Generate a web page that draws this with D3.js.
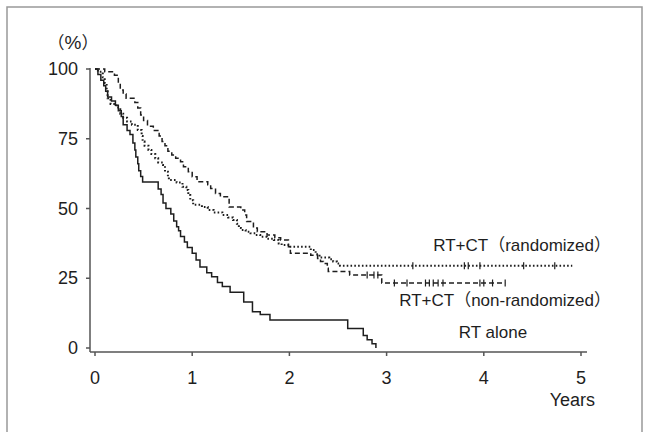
<!DOCTYPE html>
<html>
<head>
	<meta charset="utf-8">
	<title>Survival curves</title>
	<style>
		html, body { margin:0; padding:0; background:#fff; }
		body { font-family: "Liberation Sans", Arial, "Noto Sans CJK JP", sans-serif; }
		#frame { fill: none; stroke: #999; stroke-width: 1.5px; }
		.ax { stroke: #555; stroke-width: 1.5px; fill: none; }
		.lbl { font-size: 18px; fill: #1e1e1e; }
		.serlbl { font-size: 17px; fill: #1e1e1e; }
		.km { fill: none; stroke: #1e1e1e; stroke-width: 1.5px; }
		.km_dash { stroke-dasharray: 5,3; }
		.km_dot { stroke-dasharray: 1.6,2.2; stroke-width: 2px; }
		.cens { stroke: #1e1e1e; stroke-width: 1.2px; }
	</style>
	<script src="https://d3js.org/d3.v7.min.js"></script>
</head>
<body>
<svg id="chart"></svg>
<script>

	//axis ticks
	var yearTicks = [0,1,2,3,4,5];
	var pctTicks = [0,25,50,75,100];

	//RT alone: [years, %] after each drop
	var rtAlone = [[0,100],[0.03,98],[0.06,96],[0.09,94],[0.11,92],[0.13,90],[0.17,88.5],[0.21,87],[0.24,85],[0.27,83],[0.29,80],[0.33,78],[0.36,76.5],[0.39,73.5],[0.41,71],[0.42,68.5],[0.44,66],[0.45,63.5],[0.47,61.5],[0.49,59.5],[0.65,57],[0.68,55],[0.7,52],[0.73,50],[0.78,48],[0.81,45.5],[0.84,43.5],[0.86,42],[0.88,40],[0.92,38],[0.95,36],[1.0,34],[1.04,31.5],[1.08,29],[1.15,27],[1.2,25.5],[1.26,23.5],[1.31,22],[1.39,20],[1.53,16.5],[1.62,13],[1.7,12],[1.8,10],[2.6,7],[2.76,4.5],[2.8,3],[2.85,1.5],[2.89,0]];
	var rtAloneEnd = 2.89;
	var rtAloneCens = [];

	//RT+CT non-randomized
	var ctNonRand = [[0,100],[0.1,99],[0.2,97.8],[0.24,95],[0.26,92.5],[0.29,91],[0.32,89.5],[0.41,88],[0.44,86],[0.47,83.5],[0.5,81.5],[0.54,79.5],[0.6,78],[0.66,76],[0.69,74],[0.72,72.5],[0.75,70.5],[0.79,69.2],[0.83,68],[0.88,66.8],[0.91,65],[0.96,63.2],[1.0,61.4],[1.05,59.6],[1.16,58.5],[1.19,57.2],[1.24,55.4],[1.29,54.2],[1.38,50.5],[1.5,49.5],[1.54,47.7],[1.56,45.3],[1.62,44.7],[1.63,43],[1.67,41.7],[1.77,40.5],[1.85,39.5],[1.91,38.7],[1.99,36.3],[2.01,34],[2.22,33.2],[2.29,32.1],[2.32,31],[2.35,30.3],[2.39,28.6],[2.4,27.4],[2.62,26.2],[2.95,23.3]];
	var ctNonRandEnd = 4.22;
	var ctNonRandCens = [2.8,2.87,2.91,3.08,3.21,3.4,3.44,3.48,3.53,3.58,3.96,4.0,4.09,4.22];

	//RT+CT randomized
	var ctRand = [[0,100],[0.03,99],[0.08,97],[0.1,95],[0.12,92],[0.13,89.5],[0.16,87.5],[0.22,86.2],[0.26,84],[0.29,82.5],[0.33,81.2],[0.38,80],[0.44,78.1],[0.48,76],[0.49,74],[0.51,72.5],[0.55,71],[0.58,69.5],[0.62,68],[0.65,66.5],[0.7,65.6],[0.72,63.2],[0.75,61.5],[0.76,60.2],[0.84,59.3],[0.9,57.8],[0.94,56.6],[0.96,54.8],[0.98,53],[1.01,51.3],[1.1,50.5],[1.16,49.5],[1.22,48.6],[1.31,47.7],[1.37,46.8],[1.42,45.9],[1.46,44.5],[1.48,43],[1.5,42.3],[1.55,41.7],[1.6,41.1],[1.65,40.5],[1.7,39.9],[1.77,39.2],[1.84,38.7],[1.89,37.5],[1.92,36.9],[2.0,36.3],[2.22,35.1],[2.27,33.6],[2.31,32.4],[2.41,31.8],[2.45,31],[2.49,30.3],[2.52,29.5]];
	var ctRandEnd = 4.91;
	var ctRandCens = [3.27,3.8,3.84,3.96,4.41,4.73];

	var W = 652, H = 432;
	var svg = d3.select("#chart").attr("width", W).attr("height", H);

	//frame
	svg.append("rect").attr("id","frame").attr("x",7).attr("y",7).attr("width",635).attr("height",440);

	var x = d3.scaleLinear().domain([0,5]).range([95,581]),
		y = d3.scaleLinear().domain([0,100]).range([348,69]);
	var axisX = 90, axisY = 352;

	//y axis
	svg.append("line").attr("class","ax").attr("x1",axisX).attr("x2",axisX).attr("y1",y(100)-1).attr("y2",axisY);
	svg.selectAll(".yt").data(pctTicks).enter().append("line").attr("class","ax")
		.attr("x1",axisX-4).attr("x2",axisX).attr("y1",function(d){return y(d);}).attr("y2",function(d){return y(d);});
	svg.selectAll(".ytl").data(pctTicks).enter().append("text").attr("class","lbl")
		.attr("x",78).attr("y",function(d){return y(d)+6;}).style("text-anchor","end").text(function(d){return d;});
	var pctLbl = svg.append("text").attr("class","lbl").attr("x",73).attr("y",49).style("text-anchor","middle");
	pctLbl.append("tspan").style("font-size","17px").text("\uff08");
	pctLbl.append("tspan").style("font-size","19px").text("%");
	pctLbl.append("tspan").style("font-size","17px").text("\uff09");

	//x axis
	svg.append("line").attr("class","ax").attr("x1",axisX).attr("x2",587).attr("y1",axisY).attr("y2",axisY);
	svg.selectAll(".xt").data(yearTicks).enter().append("line").attr("class","ax")
		.attr("x1",function(d){return x(d);}).attr("x2",function(d){return x(d);}).attr("y1",axisY).attr("y2",axisY+4);
	svg.selectAll(".xtl").data(yearTicks).enter().append("text").attr("class","lbl")
		.attr("x",function(d){return x(d);}).attr("y",384).style("text-anchor","middle").text(function(d){return d;});
	svg.append("text").attr("class","lbl").attr("x",595).attr("y",406).style("text-anchor","end").text("Years");

	//step curves
	var line = d3.line().x(function(d){return x(d[0]);}).y(function(d){return y(d[1]);}).curve(d3.curveStepAfter);

	function survAt(pts, t){
		var v = pts[0][1];
		for(var i=0;i<pts.length;i++) if(pts[i][0]<=t) v = pts[i][1];
		return v;
	}

	function drawCurve(pts, end, cens, cls){
		var data = pts.slice();
		if(end > pts[pts.length-1][0]) data.push([end, pts[pts.length-1][1]]);
		svg.append("path").attr("class","km "+cls).attr("d", line(data));
		svg.selectAll(null).data(cens).enter().append("line").attr("class","cens")
			.attr("x1",function(d){return x(d);}).attr("x2",function(d){return x(d);})
			.attr("y1",function(d){return y(survAt(pts,d))-3.5;}).attr("y2",function(d){return y(survAt(pts,d))+3.5;});
	}

	drawCurve(rtAlone, rtAloneEnd, rtAloneCens, "");
	drawCurve(ctNonRand, ctNonRandEnd, ctNonRandCens, "km_dash");
	drawCurve(ctRand, ctRandEnd, ctRandCens, "km_dot");

	//series labels
	svg.append("text").attr("class","serlbl").attr("x",611).attr("y",251).style("text-anchor","end").text("RT+CT\uff08randomized\uff09");
	svg.append("text").attr("class","serlbl").attr("x",611).attr("y",306).style("text-anchor","end").text("RT+CT\uff08non-randomized\uff09");
	svg.append("text").attr("class","serlbl").attr("x",493).attr("y",338).style("text-anchor","middle").text("RT alone");

</script>
</body>
</html>
